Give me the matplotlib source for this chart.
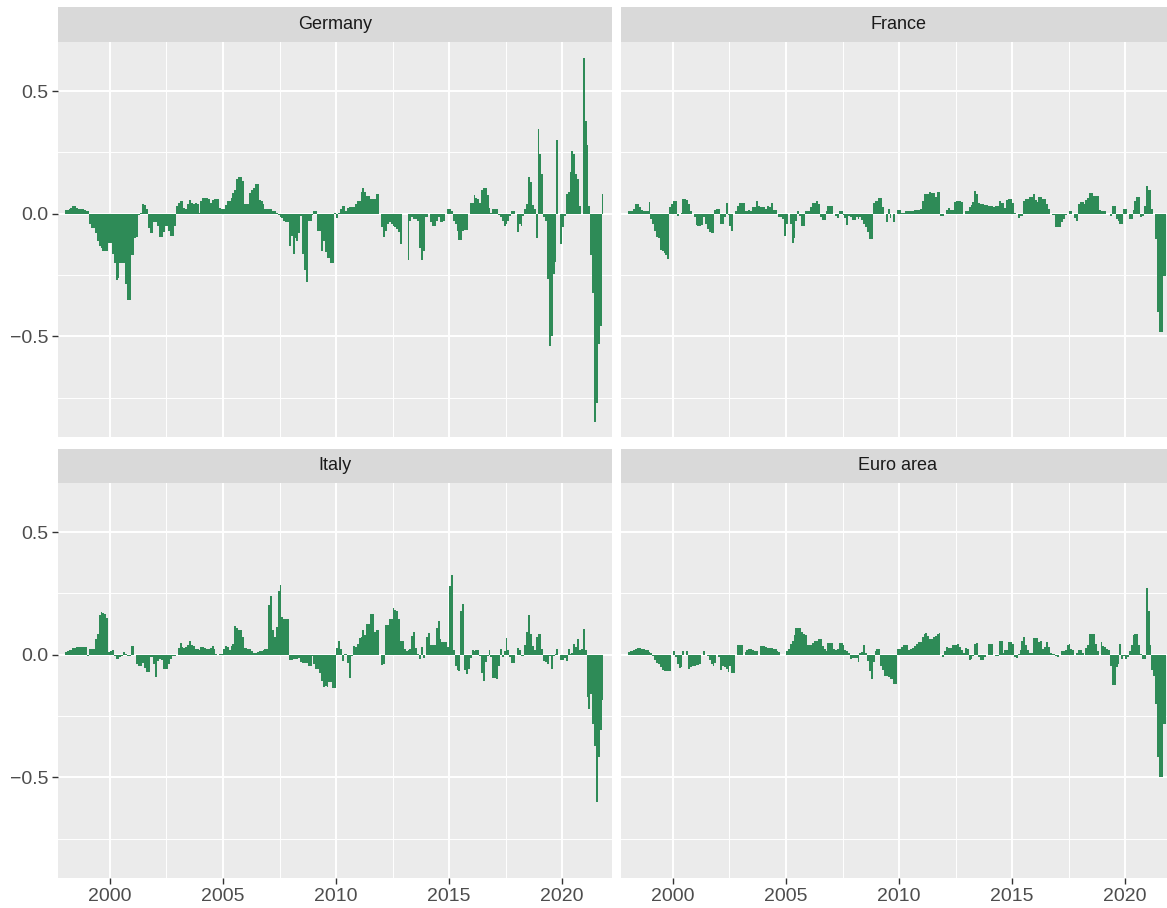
import numpy as np
import matplotlib
matplotlib.use("Agg")
import matplotlib.pyplot as plt

plt.rcParams['font.family'] = ['Liberation Sans', 'DejaVu Sans']

# ── Datos mensuales (ene 1998 – oct 2021) ─────────────────────────────────────
START_YEAR = 1998

germany = [
    0.015, 0.015, 0.02, 0.025, 0.03, 0.03, 0.025, 0.02, 0.02, 0.02, 0.015, 0.01,          # 1998
    0.012, -0.04, -0.06, -0.06, -0.08, -0.11, -0.13, -0.14, -0.15, -0.15, -0.15, -0.12,   # 1999
    -0.12, -0.165, -0.2, -0.27, -0.26, -0.2, -0.2, -0.2, -0.285, -0.35, -0.35, -0.17,     # 2000
    -0.17, -0.1, -0.095, -0.005, 0.005, 0.04, 0.035, 0.02, -0.06, -0.08, -0.08, -0.035,   # 2001
    -0.035, -0.05, -0.095, -0.095, -0.075, -0.05, -0.05, -0.07, -0.09, -0.09, -0.05, 0.03,  # 2002
    0.045, 0.05, 0.05, 0.025, 0.02, 0.04, 0.055, 0.045, 0.04, 0.043, 0.04, 0.005,         # 2003
    0.05, 0.065, 0.065, 0.065, 0.06, 0.045, 0.055, 0.06, 0.06, 0.06, 0.025, 0.02,         # 2004
    0.02, 0.035, 0.05, 0.05, 0.065, 0.085, 0.095, 0.14, 0.15, 0.15, 0.135, 0.04,          # 2005
    0.04, 0.04, 0.085, 0.095, 0.105, 0.12, 0.12, 0.055, 0.05, 0.04, 0.02, 0.02,           # 2006
    0.02, 0.02, 0.012, 0.012, 0.005, -0.005, -0.012, -0.018, -0.03, -0.033, -0.035, -0.13,  # 2007
    -0.09, -0.165, -0.1, -0.11, -0.08, -0.01, -0.165, -0.23, -0.28, -0.03, -0.03, -0.005,  # 2008
    0.012, 0.012, -0.07, -0.07, -0.15, -0.11, -0.155, -0.18, -0.18, -0.2, -0.2, 0.005,    # 2009
    -0.018, 0.005, 0.02, 0.033, 0.033, 0.012, 0.025, 0.028, 0.028, 0.028, 0.04, 0.053,   # 2010
    0.053, 0.087, 0.103, 0.087, 0.073, 0.073, 0.06, 0.06, 0.06, 0.08, 0.08, 0.0,          # 2011
    -0.055, -0.095, -0.07, -0.042, -0.035, -0.042, -0.05, -0.055, -0.063, -0.075, -0.125, 0.0,  # 2012
    0.0, 0.0, -0.19, -0.03, -0.015, -0.02, -0.02, -0.03, -0.14, -0.19, -0.15, -0.015,     # 2013
    -0.015, 0.0, -0.035, -0.05, -0.05, -0.03, -0.015, -0.035, -0.035, -0.03, 0.0, 0.02,  # 2014
    0.02, 0.01, -0.03, -0.04, -0.07, -0.105, -0.105, -0.07, -0.065, -0.065, 0.0, 0.045,  # 2015
    0.045, 0.075, 0.065, 0.06, 0.045, 0.095, 0.105, 0.105, 0.075, 0.025, 0.005, 0.02,    # 2016
    0.02, 0.02, -0.005, -0.015, -0.03, -0.05, -0.04, -0.03, -0.01, 0.012, 0.012, 0.0,    # 2017
    -0.075, -0.04, -0.05, -0.01, 0.02, 0.04, 0.15, 0.13, 0.037, 0.02, -0.1, 0.345,       # 2018
    0.245, 0.16, -0.015, -0.03, -0.265, -0.54, -0.5, -0.245, -0.195, 0.3, 0.0, -0.125,   # 2019
    -0.055, -0.008, 0.08, 0.087, 0.17, 0.257, 0.245, 0.16, 0.14, 0.033, 0.0, 0.635,      # 2020
    0.38, 0.28, 0.033, -0.17, -0.325, -0.85, -0.77, -0.53, -0.457, 0.08,                 # 2021
]

france = [
    0.012, 0.012, 0.012, 0.02, 0.04, 0.04, 0.026, 0.015, 0.01, 0.01, 0.01, 0.046,         # 1998
    -0.022, -0.042, -0.07, -0.094, -0.097, -0.148, -0.15, -0.158, -0.17, -0.185, 0.026, 0.04,  # 1999
    0.05, 0.05, -0.008, 0.0, 0.005, 0.06, 0.06, 0.056, 0.04, 0.01, 0.0, -0.015,           # 2000
    -0.045, -0.049, -0.049, -0.045, -0.015, -0.042, -0.063, -0.073, -0.08, -0.08, 0.015, 0.02,  # 2001
    0.02, -0.042, -0.042, -0.015, 0.042, -0.004, -0.049, -0.07, 0.0, 0.012, 0.033, 0.042,  # 2002
    0.042, 0.042, 0.01, 0.012, 0.015, 0.012, 0.026, 0.026, 0.053, 0.033, 0.026, 0.026,   # 2003
    0.026, 0.02, 0.03, 0.026, 0.042, 0.015, 0.015, 0.0, -0.015, -0.015, -0.022, -0.09,   # 2004
    -0.042, 0.0, -0.042, -0.12, -0.097, -0.028, 0.012, -0.008, -0.049, -0.049, 0.01, 0.01,  # 2005
    0.01, 0.026, 0.042, 0.042, 0.053, 0.04, -0.015, -0.026, -0.026, 0.01, 0.03, 0.03,    # 2006
    0.03, 0.0, -0.008, -0.018, 0.012, 0.012, -0.004, -0.018, -0.045, -0.008, -0.015, -0.026,  # 2007
    -0.026, -0.015, -0.02, -0.015, -0.026, -0.042, -0.056, -0.076, -0.103, -0.103, 0.042, 0.05,  # 2008
    0.05, 0.064, 0.064, 0.026, 0.0, -0.035, 0.02, -0.018, 0.0, -0.035, 0.0, 0.015,       # 2009
    0.015, 0.005, 0.005, 0.012, 0.012, 0.012, 0.012, 0.01, 0.015, 0.015, 0.015, 0.02,    # 2010
    0.053, 0.08, 0.08, 0.08, 0.087, 0.083, 0.083, 0.07, 0.087, 0.087, -0.008, -0.008,    # 2011
    0.0, 0.015, 0.023, 0.015, 0.015, 0.046, 0.05, 0.05, 0.05, 0.046, 0.0, 0.012,         # 2012
    0.012, 0.026, 0.035, 0.046, 0.091, 0.08, 0.042, 0.04, 0.04, 0.037, 0.037, 0.033,     # 2013
    0.033, 0.03, 0.026, 0.033, 0.033, 0.053, 0.042, 0.042, 0.023, 0.056, 0.06, 0.06,     # 2014
    0.042, 0.005, 0.0, -0.018, -0.008, -0.008, 0.053, 0.06, 0.06, 0.067, 0.067, 0.08,    # 2015
    0.056, 0.046, 0.067, 0.067, 0.06, 0.06, 0.04, 0.02, 0.0, -0.004, -0.004, -0.056,     # 2016
    -0.056, -0.056, -0.035, -0.022, -0.004, 0.0, 0.012, 0.012, 0.0, -0.018, -0.031, 0.04,  # 2017
    0.046, 0.046, 0.04, 0.056, 0.064, 0.083, 0.083, 0.073, 0.073, 0.073, 0.015, 0.012,   # 2018
    0.012, 0.012, 0.0, 0.0, -0.008, 0.03, 0.03, -0.022, -0.031, -0.04, -0.04, 0.02,      # 2019
    0.02, 0.0, -0.022, -0.022, 0.015, 0.05, 0.067, 0.067, -0.015, -0.008, 0.033, 0.114,  # 2020
    0.097, 0.097, 0.02, 0.0, -0.103, -0.40, -0.484, -0.484, -0.253, -0.253,              # 2021
]

italy = [
    0.011, 0.015, 0.02, 0.02, 0.027, 0.027, 0.03, 0.03, 0.031, 0.031, 0.031, 0.031,      # 1998
    -0.005, 0.024, 0.024, 0.024, 0.065, 0.086, 0.16, 0.174, 0.171, 0.167, 0.15, 0.011,   # 1999
    0.014, 0.018, -0.005, -0.016, -0.016, -0.01, -0.005, 0.011, 0.004, -0.005, -0.005, 0.035,  # 2000
    0.035, 0.0, -0.037, -0.046, -0.044, -0.033, -0.054, -0.071, -0.071, -0.01, -0.01, -0.037,  # 2001
    -0.091, -0.027, -0.019, -0.023, -0.057, -0.057, -0.06, -0.037, -0.019, -0.005, -0.005, 0.0,  # 2002
    0.027, 0.049, 0.031, 0.027, 0.031, 0.04, 0.054, 0.04, 0.035, 0.024, 0.024, 0.018,    # 2003
    0.031, 0.031, 0.027, 0.022, 0.022, 0.027, 0.035, 0.024, 0.004, 0.0, 0.004, 0.004,    # 2004
    0.022, 0.035, 0.031, 0.018, 0.035, 0.045, 0.117, 0.109, 0.099, 0.099, 0.072, 0.027,  # 2005
    0.027, 0.024, 0.024, 0.014, 0.008, 0.008, 0.011, 0.014, 0.014, 0.019, 0.024, 0.022,  # 2006
    0.204, 0.24, 0.099, 0.072, 0.113, 0.259, 0.283, 0.154, 0.147, 0.147, 0.147, -0.023,  # 2007
    -0.023, -0.016, -0.019, -0.019, -0.014, -0.03, -0.034, -0.034, -0.034, -0.044, -0.046, -0.005,  # 2008
    -0.037, -0.057, -0.06, -0.073, -0.109, -0.132, -0.128, -0.132, -0.112, -0.112, -0.136, -0.136,  # 2009
    0.027, 0.054, 0.024, -0.027, 0.004, 0.004, -0.033, -0.095, -0.005, 0.035, 0.031, 0.045,  # 2010
    0.068, 0.072, 0.099, 0.079, 0.126, 0.126, 0.167, 0.167, 0.092, 0.099, 0.099, 0.0,    # 2011
    -0.041, -0.037, 0.12, 0.12, 0.147, 0.144, 0.19, 0.181, 0.177, 0.147, 0.058, 0.058,   # 2012
    0.024, 0.014, 0.018, 0.022, 0.076, 0.092, 0.027, 0.004, -0.016, 0.031, -0.014, 0.0,  # 2013
    0.072, 0.09, 0.038, 0.04, 0.04, 0.109, 0.136, 0.063, 0.052, 0.052, 0.052, 0.031,     # 2014
    0.28, 0.327, 0.018, -0.044, -0.064, -0.068, 0.177, 0.208, -0.064, -0.078, -0.057, -0.014,  # 2015
    0.018, 0.014, 0.018, 0.018, -0.005, -0.073, -0.109, -0.03, -0.005, 0.018, -0.01, -0.095,  # 2016
    -0.095, -0.098, -0.044, 0.024, -0.01, 0.014, 0.068, 0.018, -0.01, -0.033, -0.033, 0.0,  # 2017
    0.027, 0.018, -0.005, -0.005, 0.04, 0.092, 0.16, 0.086, 0.035, 0.018, 0.072, 0.086,  # 2018
    0.086, 0.022, -0.027, -0.03, -0.037, -0.005, -0.06, -0.005, 0.004, 0.024, 0.0, -0.023,  # 2019
    -0.023, -0.014, -0.027, 0.024, 0.004, 0.008, 0.045, 0.031, 0.063, 0.018, 0.022, 0.106,  # 2020
    0.018, -0.173, -0.22, -0.159, -0.282, -0.37, -0.6, -0.418, -0.305, -0.186,           # 2021
]

euro_area = [
    0.011, 0.014, 0.014, 0.018, 0.024, 0.029, 0.029, 0.024, 0.022, 0.018, 0.018, 0.011,  # 1998
    0.008, -0.005, -0.023, -0.033, -0.037, -0.05, -0.064, -0.068, -0.068, -0.068, -0.068, 0.0,  # 1999
    0.014, -0.01, -0.037, -0.054, -0.05, 0.014, 0.0, 0.014, -0.057, -0.05, -0.044, -0.044,  # 2000
    -0.041, -0.041, -0.037, 0.0, 0.014, 0.0, -0.005, -0.023, -0.037, -0.044, -0.033, 0.0,  # 2001
    -0.01, -0.064, -0.044, -0.05, -0.06, -0.071, -0.044, -0.073, -0.073, 0.0, 0.038, 0.038,  # 2002
    0.041, 0.0, 0.011, 0.018, 0.024, 0.024, 0.018, 0.014, 0.014, 0.0, 0.035, 0.035,     # 2003
    0.035, 0.031, 0.027, 0.027, 0.027, 0.024, 0.024, 0.014, 0.011, 0.0, 0.0, 0.0,       # 2004
    0.014, 0.024, 0.045, 0.054, 0.079, 0.109, 0.109, 0.109, 0.092, 0.086, 0.079, 0.038,  # 2005
    0.038, 0.038, 0.049, 0.054, 0.054, 0.063, 0.063, 0.035, 0.024, 0.014, 0.049, 0.049,  # 2006
    0.049, 0.024, 0.018, 0.022, 0.049, 0.049, 0.038, 0.018, 0.014, 0.008, -0.019, -0.014,  # 2007
    -0.014, -0.014, -0.03, 0.008, 0.011, 0.038, 0.008, -0.027, -0.068, -0.1, -0.03, 0.014,  # 2008
    0.022, 0.022, -0.044, -0.064, -0.085, -0.087, -0.091, -0.098, -0.098, -0.118, -0.118, 0.024,  # 2009
    0.024, 0.031, 0.038, 0.038, 0.038, 0.018, 0.024, 0.027, 0.035, 0.045, 0.052, 0.052,  # 2010
    0.072, 0.086, 0.09, 0.076, 0.065, 0.065, 0.072, 0.076, 0.086, 0.09, -0.003, -0.01,   # 2011
    0.014, 0.031, 0.027, 0.027, 0.038, 0.038, 0.041, 0.045, 0.031, 0.018, 0.008, 0.027,  # 2012
    0.024, -0.023, -0.019, -0.005, 0.045, 0.049, -0.01, -0.023, -0.023, -0.01, 0.0, 0.045,  # 2013
    0.045, 0.045, 0.0, -0.005, -0.005, 0.054, 0.054, 0.008, 0.018, 0.018, 0.052, 0.052,  # 2014
    0.045, -0.01, -0.014, 0.004, 0.018, 0.058, 0.072, 0.041, 0.018, 0.008, 0.008, 0.068,  # 2015
    0.068, 0.068, 0.052, 0.054, 0.024, 0.031, 0.052, 0.031, 0.008, 0.004, 0.004, -0.005,  # 2016
    -0.01, 0.0, 0.014, 0.014, 0.018, 0.038, 0.045, 0.022, 0.018, -0.003, 0.008, 0.018,  # 2017
    0.018, 0.008, 0.0, 0.027, 0.038, 0.086, 0.086, 0.086, 0.045, 0.014, 0.0, 0.052,     # 2018
    0.035, 0.031, 0.024, 0.018, -0.046, -0.122, -0.122, -0.05, -0.037, 0.045, -0.016, -0.005,  # 2019
    -0.019, -0.01, 0.014, 0.038, 0.082, 0.086, 0.086, 0.038, 0.004, -0.019, -0.019, 0.27,  # 2020
    0.177, 0.038, -0.064, -0.087, -0.2, -0.418, -0.5, -0.5, -0.282, -0.282,              # 2021
]

panels = [("Germany", germany), ("France", france),
          ("Italy", italy), ("Euro area", euro_area)]

# ── Estilo tipo ggplot ────────────────────────────────────────────────────────
BAR_COLOR = "#2E8B57"
PANEL_BG  = "#EBEBEB"
STRIP_BG  = "#D9D9D9"
W, H = 1167, 908

fig = plt.figure(figsize=(W / 100, H / 100), dpi=100)
fig.patch.set_facecolor("white")

def px_axes(x0, y0, x1, y1):
    return fig.add_axes([x0 / W, 1 - y1 / H, (x1 - x0) / W, (y1 - y0) / H])

cols = [(58, 612), (621, 1175)]
rows = [(7, 42, 437), (449, 483, 878)]   # strip arriba, panel arriba, panel abajo

for idx, (name, vals) in enumerate(panels):
    r, c = divmod(idx, 2)
    x0, x1 = cols[c]
    s0, p0, p1 = rows[r]

    ax = px_axes(x0, p0, x1, p1)
    ax.set_facecolor(PANEL_BG)
    v = np.array(vals)
    t = START_YEAR + (np.arange(len(v)) + 0.5) / 12
    # sin antialias: barras macizas y pegadas, como en el original
    ax.bar(t, v, width=1 / 12, color=BAR_COLOR, linewidth=0,
           antialiased=False, zorder=3)

    ax.set_xlim(1997.70, 2022.21)
    ax.set_ylim(-0.91, 0.70)
    ax.set_xticks([2000, 2005, 2010, 2015, 2020])
    ax.set_xticks([2002.5, 2007.5, 2012.5, 2017.5], minor=True)
    ax.set_yticks([-0.5, 0.0, 0.5])
    ax.set_yticks([-0.75, -0.25, 0.25], minor=True)
    ax.set_yticklabels(["\u22120.5", "0.0", "0.5"])
    ax.grid(which="major", color="white", linewidth=1.4, zorder=0)
    ax.grid(which="minor", color="white", linewidth=0.7, zorder=0)
    ax.set_axisbelow(True)
    for sp in ax.spines.values():
        sp.set_visible(False)

    ax.tick_params(which="minor", length=0)
    ax.tick_params(which="major", length=4, width=1, color="#333333",
                   labelcolor="#4D4D4D", labelsize=14, pad=3)
    if r == 0:
        ax.tick_params(axis="x", length=0, labelbottom=False)
    if c == 1:
        ax.tick_params(axis="y", length=0, labelleft=False)

    # Strip con el nombre
    sax = px_axes(x0, s0, x1, p0)
    sax.set_facecolor(STRIP_BG)
    sax.set_xticks([])
    sax.set_yticks([])
    for sp in sax.spines.values():
        sp.set_visible(False)
    sax.text(0.5, 0.5, name, ha="center", va="center", fontsize=13,
             color="#1A1A1A", transform=sax.transAxes)

fig.savefig("out.png", dpi=100, facecolor=fig.get_facecolor())
